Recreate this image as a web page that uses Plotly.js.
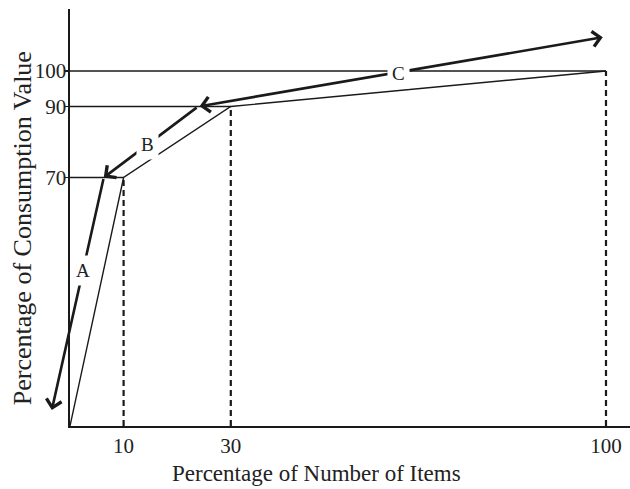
<!DOCTYPE html>
<html>
<head>
<meta charset="utf-8">
<script src="https://cdn.plot.ly/plotly-3.0.1.min.js"></script>
<style>html,body{margin:0;padding:0;background:#fff;}#chart{width:630px;height:489px;}</style>
</head>
<body>
<div id="chart"></div>
<script>
// ---- data ----
const itemPct = [0, 10, 30, 100];          // cumulative % of number of items
const valuePct = [0, 70, 90, 100];         // cumulative % of consumption value
const xTicks = [10, 30, 100];
const yTicks = [70, 90, 100];
const classLabels = ['A', 'B', 'C'];
const xTitle = 'Percentage of Number of Items';
const yTitle = 'Percentage of Consumption Value';

// ---- decoration geometry (data coords) ----
const jAB = [6.3, 70], jBC = [23.9, 90];
const endA = [-3.4, 4.5], endC = [99.4, 109.5];
const labelPos = [[2.4, 43.9], [14.55, 79.4], [61.2, 99.2]];

const FONT = '"Liberation Serif", "Times New Roman", serif';
const INK = '#1a1a1a';

const traces = [];
// horizontal guides from the y axis to each break point
for (let i = 1; i < itemPct.length; i++) {
  traces.push({x: [0, itemPct[i]], y: [valuePct[i], valuePct[i]], mode: 'lines',
    line: {color: INK, width: 1.4}, hoverinfo: 'skip', showlegend: false, cliponaxis: false});
}
// dashed drops to the x axis
for (let i = 1; i < itemPct.length; i++) {
  traces.push({x: [itemPct[i], itemPct[i]], y: [0, valuePct[i]], mode: 'lines',
    line: {color: INK, width: 2.2, dash: '6px,4px'}, hoverinfo: 'skip', showlegend: false, cliponaxis: false});
}
// the cumulative curve
traces.push({x: itemPct, y: valuePct, mode: 'lines', line: {color: INK, width: 1.4},
  showlegend: false, cliponaxis: false});

function arrow(tail, head, both) {
  return {x: head[0], y: head[1], ax: tail[0], ay: tail[1], xref: 'x', yref: 'y', axref: 'x', ayref: 'y',
    text: '', showarrow: true, arrowhead: 4, arrowsize: 1.15, arrowwidth: 2.6, arrowcolor: INK,
    arrowside: both ? 'end+start' : 'end', startarrowhead: 4, startarrowsize: 1.15, standoff: 0, startstandoff: 0};
}
const annotations = [
  arrow(jAB, endA, false),
  arrow(jBC, jAB, false),
  arrow(jBC, endC, true)
];
classLabels.forEach((t, i) => {
  annotations.push({x: labelPos[i][0], y: labelPos[i][1], xref: 'x', yref: 'y', text: t, showarrow: false,
    bgcolor: '#ffffff', borderpad: 4, font: {family: FONT, size: 19, color: '#222'}});
});
annotations.push({x: 0.441, y: -0.113, xref: 'paper', yref: 'paper', text: xTitle,
  showarrow: false, xanchor: 'center', yanchor: 'middle', font: {family: FONT, size: 23, color: '#222'}});
annotations.push({x: -0.0835, y: 0.475, xref: 'paper', yref: 'paper', text: yTitle, textangle: -90,
  showarrow: false, xanchor: 'center', yanchor: 'middle', font: {family: FONT, size: 26, color: '#222'}});

const layout = {
  width: 630, height: 489,
  margin: {l: 70, r: 0, t: 9, b: 63},
  paper_bgcolor: '#fff', plot_bgcolor: '#fff',
  showlegend: false,
  font: {family: FONT, color: '#222'},
  xaxis: {range: [0, 104.48], tickvals: xTicks, ticktext: xTicks.map(String), showgrid: false, zeroline: false,
    showline: true, linecolor: INK, linewidth: 1.7, ticks: '', tickfont: {family: FONT, size: 21, color: '#222'}, fixedrange: true},
  yaxis: {range: [0, 117.46], tickvals: yTicks, ticktext: yTicks.map(String), showgrid: false, zeroline: false,
    showline: true, linecolor: INK, linewidth: 1.6, ticks: 'outside', ticklen: 3, tickwidth: 1.3, tickcolor: INK,
    ticklabelstandoff: -5,
    tickfont: {family: FONT, size: 21, color: '#222'}, fixedrange: true},
  annotations: annotations
};
Plotly.newPlot('chart', traces, layout, {displayModeBar: false, staticPlot: true});
</script>
</body>
</html>
